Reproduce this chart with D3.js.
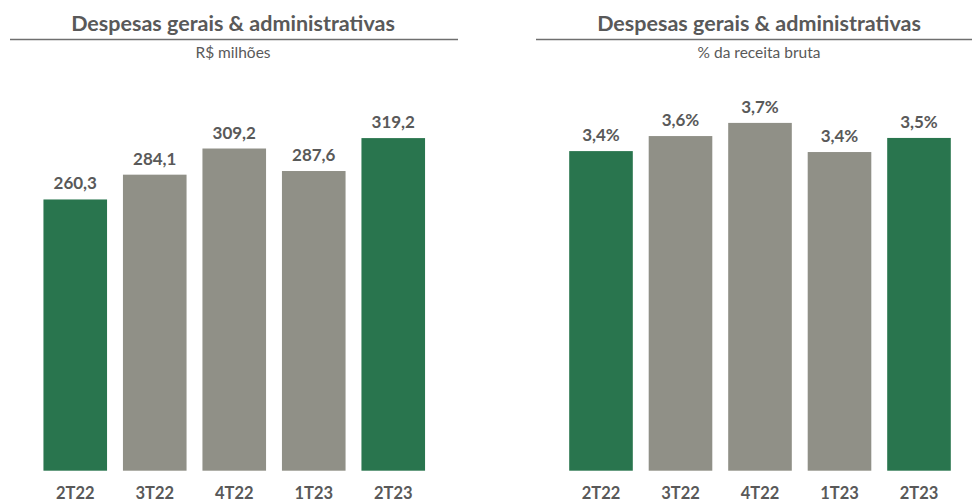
<!DOCTYPE html>
<html><head><meta charset="utf-8">
<script src="https://cdn.jsdelivr.net/npm/d3@7"></script>
<style>body{margin:0;background:#fff}svg{display:block}</style>
</head><body>
<svg id="c" width="972" height="502"></svg>
<script>
const categories = ["2T22","3T22","4T22","1T23","2T23"];
const valuesBRL = [260.3, 284.1, 309.2, 287.6, 319.2];
const valuesPct = [3.40, 3.56, 3.70, 3.39, 3.54];
const highlight = [true, false, false, false, true];
const titles = ["Despesas gerais & administrativas","Despesas gerais & administrativas"];
const subtitles = ["R$ milhões","% da receita bruta"];

const GREEN = "#29754e", GRAY = "#909087", TXT = "#595959";
const FONT = "Lato, 'Open Sans', sans-serif";
const svg = d3.select("#c");
const defs = svg.append("defs");
defs.append("filter").attr("id","sh").attr("x","-5%").attr("y","-200%").attr("width","110%").attr("height","500%")
  .append("feGaussianBlur").attr("stdDeviation",1.2);

const fmt1 = v => d3.format(".1f")(v).replace(".", ",");

const panels = [
  {vals: valuesBRL, title: titles[0], sub: subtitles[0], x0: 35.5, x1: 433, lineX0: 10, lineX1: 458, cx: 233,
   y: d3.scaleLinear().domain([0, 400]).range([470.7, 470.7 - 416.8]), lab: v => fmt1(v)},
  {vals: valuesPct, title: titles[1], sub: subtitles[1], x0: 561.25, x1: 958.75, lineX0: 536, lineX1: 972, cx: 759,
   y: d3.scaleLinear().domain([0, 4]).range([470.7, 470.7 - 376]), lab: v => fmt1(v) + "%"}
];

panels.forEach(p => {
  const g = svg.append("g");
  const t = g.append("text").attr("x", p.cx).attr("y", 31).attr("text-anchor","middle")
    .attr("font-family", FONT).attr("font-weight", 700).attr("font-size", 20).attr("fill", TXT).text(p.title);
  const w = t.node().getComputedTextLength();
  t.attr("font-size", 20 * 324 / w);
  g.append("line").attr("x1", p.lineX0).attr("x2", p.lineX1).attr("y1", 41).attr("y2", 41)
    .attr("stroke", "#000").attr("stroke-opacity", 0.35).attr("stroke-width", 1.5).attr("filter","url(#sh)");
  g.append("line").attr("x1", p.lineX0).attr("x2", p.lineX1).attr("y1", 39.5).attr("y2", 39.5)
    .attr("stroke", "#6f6f6f").attr("stroke-width", 1.3);
  g.append("text").attr("x", p.cx).attr("y", 57.5).attr("text-anchor","middle")
    .attr("font-family", FONT).attr("font-size", 15.5).attr("fill", TXT).text(p.sub);

  const x = d3.scaleBand().domain(categories).range([p.x0, p.x1]).paddingInner(0.2).paddingOuter(0.1);
  const data = categories.map((c, i) => ({c, v: p.vals[i], h: highlight[i]}));
  g.selectAll("rect.bar").data(data).join("rect").attr("class","bar")
    .attr("x", d => x(d.c)).attr("width", x.bandwidth())
    .attr("y", d => p.y(d.v)).attr("height", d => p.y(0) - p.y(d.v))
    .attr("fill", d => d.h ? GREEN : GRAY);
  g.selectAll("text.val").data(data).join("text").attr("class","val")
    .attr("x", d => x(d.c) + x.bandwidth()/2).attr("y", d => p.y(d.v) - 10)
    .attr("text-anchor","middle").attr("font-family", FONT).attr("font-weight", 700)
    .attr("font-size", 17).attr("fill", TXT).text(d => p.lab(d.v));
  const ax = g.append("g").attr("transform", `translate(0,${p.y(0)})`)
    .call(d3.axisBottom(x).tickSize(0).tickPadding(16.5));
  ax.select(".domain").remove();
  ax.selectAll("text").attr("font-family", FONT).attr("font-weight", 700).attr("font-size", 16.5)
    .attr("fill", TXT).attr("dy", "0.71em");
});
</script>
</body></html>
